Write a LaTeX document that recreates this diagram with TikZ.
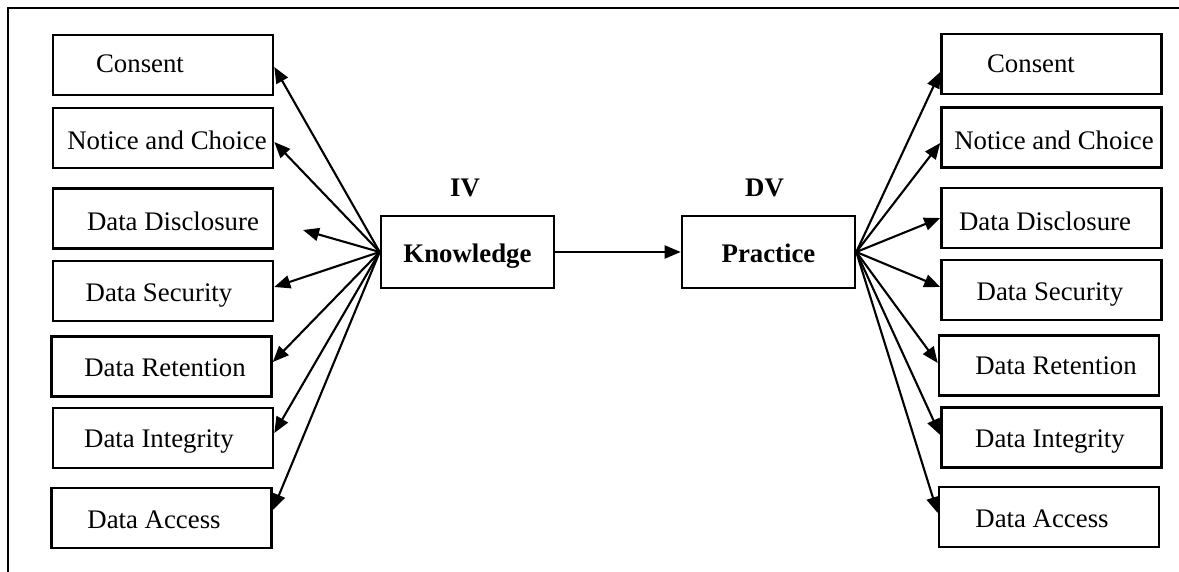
\documentclass[tikz,border=0pt]{standalone}
\usepackage{fontspec}
\setmainfont{Liberation Serif}
\usetikzlibrary{arrows.meta}

\tikzset{
  box/.style={draw, line width=1.3pt, minimum width=110pt, minimum height=30pt, inner sep=0pt},
  mainbox/.style={draw, line width=1.3pt, minimum width=86.5pt, minimum height=36pt, inner sep=0pt,
    text height=11pt, text depth=0pt, font=\fontsize{13.4}{16}\selectfont\bfseries},
  txt/.style={anchor=base, inner sep=0pt, font=\fontsize{13.4}{16}\selectfont},
  head/.style={anchor=base, inner sep=0pt, font=\fontsize{13.4}{16}\selectfont\bfseries},
  link/.style={->, line width=1.05pt}
}

\begin{document}
\begin{tikzpicture}[x=0.5pt, y=-0.5pt, >={Triangle[length=8pt,width=6.5pt]}]
    \useasboundingbox (0,0) rectangle (1179,572);

    % Draw frame (top and left side only)
    \draw[line width=1.2pt] (1179,8) -- (8,8) -- (8,572);

    % Draw the two variables
    \node[mainbox] (know) at (467.5,252) {Knowledge};
    \node[mainbox] (prac) at (768.5,252) {Practice};
    \node[head] (iv) at (465,197) {IV};
    \node[head] (dv) at (764.5,197) {DV};

    % Boxes for knowledge items
    \node[box] (kcon) at (163,65) {};
    \node[txt] (kcon-t) at (140,73) {Consent};
    \node[box] (knot) at (163,138) {};
    \node[txt] (knot-t) at (167,150) {Notice and Choice};
    \node[box] (kdis) at (163,218.5) {};
    \node[txt] (kdis-t) at (173,231) {Data Disclosure};
    \node[box] (ksec) at (163,291) {};
    \node[txt] (ksec-t) at (159,302) {Data Security};
    \node[box] (kret) at (161.5,366.5) {};
    \node[txt] (kret-t) at (165,377) {Data Retention};
    \node[box] (kint) at (163,438) {};
    \node[txt] (kint-t) at (159,447) {Data Integrity};
    \node[box] (kacc) at (161.5,518) {};
    \node[txt] (kacc-t) at (154,528) {Data Access};

    % Boxes for practice items
    \node[box] (pcon) at (1051.5,64) {};
    \node[txt] (pcon-t) at (1031,73) {Consent};
    \node[box] (pnot) at (1051.5,137.5) {};
    \node[txt] (pnot-t) at (1054,150) {Notice and Choice};
    \node[box] (pdis) at (1051.5,218) {};
    \node[txt] (pdis-t) at (1045,231) {Data Disclosure};
    \node[box] (psec) at (1051.5,290) {};
    \node[txt] (psec-t) at (1050,301) {Data Security};
    \node[box] (pret) at (1049,365.5) {};
    \node[txt] (pret-t) at (1056,375) {Data Retention};
    \node[box] (pint) at (1051.5,437.5) {};
    \node[txt] (pint-t) at (1050,447) {Data Integrity};
    \node[box] (pacc) at (1049,517) {};
    \node[txt] (pacc-t) at (1042,527) {Data Access};

    % Arrows out of knowledge
    \coordinate (kdis-end) at (303,230);
    \draw[link] (know.west) -- ([yshift=-1pt]kcon.east);
    \draw[link] (know.west) -- ([yshift=-2pt]knot.east);
    \draw[link] (know.west) -- (kdis-end);
    \draw[link] (know.west) -- ([yshift=2pt]ksec.east);
    \draw[link] (know.west) -- ([yshift=2.25pt]kret.east);
    \draw[link] (know.west) -- ([yshift=2.5pt]kint.east);
    \draw[link] (know.west) -- ([yshift=4pt]kacc.east);

    % Knowledge to practice
    \draw[link] (know.east) -- (prac.west);

    % Arrows out of practice
    \draw[link] (prac.east) -- ([yshift=-4pt]pcon.west);
    \draw[link] (prac.east) -- ([yshift=-2.75pt]pnot.west);
    \draw[link] (prac.east) -- (pdis.west);
    \draw[link] (prac.east) -- ([yshift=1.5pt]psec.west);
    \draw[link] (prac.east) -- ([yshift=1.25pt]pret.west);
    \draw[link] (prac.east) -- ([yshift=1.25pt]pint.west);
    \draw[link] (prac.east) -- ([yshift=2pt]pacc.west);
\end{tikzpicture}
\end{document}
